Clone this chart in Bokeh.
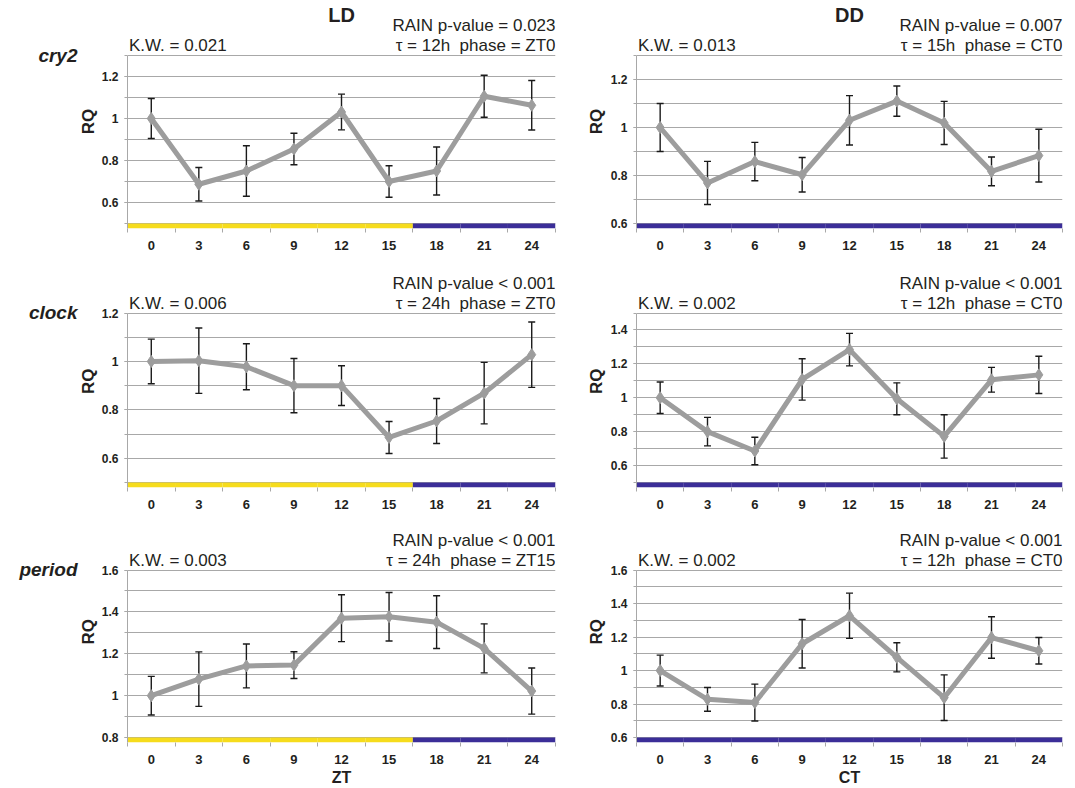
import numpy as np
from bokeh.plotting import figure
from bokeh.layouts import column, row
from bokeh.models import (ColumnDataSource, Whisker, TeeHead, Label, FixedTicker, Range1d)
from bokeh.embed import file_html
from bokeh.resources import INLINE

# ---------------- data ----------------
times = [0, 3, 6, 9, 12, 15, 18, 21, 24]
time_labels = ["0", "3", "6", "9", "12", "15", "18", "21", "24"]
ld_light = [1, 1, 1, 1, 1, 1, 0, 0, 0]   # 1 = light phase, 0 = dark phase
dd_light = [0, 0, 0, 0, 0, 0, 0, 0, 0]

cry2_ld_mean = [1.00, 0.687, 0.75, 0.855, 1.031, 0.70, 0.75, 1.106, 1.063]
cry2_ld_err = [0.095, 0.08, 0.12, 0.075, 0.085, 0.075, 0.114, 0.10, 0.118]
cry2_dd_mean = [1.00, 0.769, 0.858, 0.803, 1.03, 1.11, 1.019, 0.817, 0.883]
cry2_dd_err = [0.10, 0.09, 0.08, 0.072, 0.103, 0.063, 0.09, 0.06, 0.11]
clock_ld_mean = [1.00, 1.003, 0.978, 0.90, 0.90, 0.686, 0.754, 0.869, 1.028]
clock_ld_err = [0.092, 0.135, 0.095, 0.112, 0.082, 0.066, 0.093, 0.127, 0.135]
clock_dd_mean = [1.00, 0.80, 0.686, 1.108, 1.284, 0.994, 0.772, 1.106, 1.135]
clock_dd_err = [0.093, 0.084, 0.081, 0.122, 0.096, 0.094, 0.128, 0.073, 0.11]
period_ld_mean = [1.00, 1.079, 1.142, 1.146, 1.37, 1.377, 1.351, 1.226, 1.022]
period_ld_err = [0.092, 0.13, 0.105, 0.064, 0.112, 0.116, 0.126, 0.117, 0.11]
period_dd_mean = [1.00, 0.828, 0.809, 1.16, 1.327, 1.079, 0.838, 1.197, 1.118]
period_dd_err = [0.092, 0.071, 0.11, 0.145, 0.135, 0.087, 0.136, 0.124, 0.079]

genes = ["cry2", "clock", "period"]
kw_ld = ["K.W. = 0.021", "K.W. = 0.006", "K.W. = 0.003"]
kw_dd = ["K.W. = 0.013", "K.W. = 0.002", "K.W. = 0.002"]
rain_ld = ["RAIN p-value = 0.023", "RAIN p-value < 0.001", "RAIN p-value < 0.001"]
rain_dd = ["RAIN p-value = 0.007", "RAIN p-value < 0.001", "RAIN p-value < 0.001"]
tau_ld = ["\u03c4 = 12h\u00a0 phase = ZT0", "\u03c4 = 24h\u00a0 phase = ZT0", "\u03c4 = 24h\u00a0 phase = ZT15"]
tau_dd = ["\u03c4 = 15h\u00a0 phase = CT0", "\u03c4 = 12h\u00a0 phase = CT0", "\u03c4 = 12h\u00a0 phase = CT0"]

yrange_ld = [(0.5, 1.3), (0.5, 1.2), (0.8, 1.6)]
yrange_dd = [(0.6, 1.3), (0.5, 1.5), (0.6, 1.6)]
yticks_ld = [[0.6, 0.8, 1.0, 1.2], [0.6, 0.8, 1.0, 1.2], [0.8, 1.0, 1.2, 1.4, 1.6]]
ylabels_ld = [["0.6", "0.8", "1", "1.2"], ["0.6", "0.8", "1", "1.2"], ["0.8", "1", "1.2", "1.4", "1.6"]]
yticks_dd = [[0.6, 0.8, 1.0, 1.2], [0.6, 0.8, 1.0, 1.2, 1.4], [0.6, 0.8, 1.0, 1.2, 1.4, 1.6]]
ylabels_dd = [["0.6", "0.8", "1", "1.2"], ["0.6", "0.8", "1", "1.2", "1.4"], ["0.6", "0.8", "1", "1.2", "1.4", "1.6"]]

# ---------------- style / layout ----------------
FONT = "Liberation Sans"
TXT = "#231f20"
GRAY = "#9d9d9d"
GRID = "#a8a8a8"
YELLOW = "#f6dc1c"
BLUE = "#3b2e98"

ROW_H = [262, 256, 270]
DATA_TOP = [55, 50.5, 52]     # px from row top to the highest gridline
DATA_H = [168, 169.5, 169]    # px of the value region
BAR_PX = 5
GENE_Y = [63, 57, 62]         # gene name anchor, px from row top
SIDE_L, LD_W, SIDE_R, DD_W = 98, 472, 37, 468
FRAME_W = 428
NOTE_SIZE = "17px"


def side(width, r, gene=None, rq_x=None):
    h = ROW_H[r]
    p = figure(width=width, height=h, x_range=Range1d(0, width), y_range=Range1d(h, 0),
               x_axis_location=None, y_axis_location=None, output_backend="svg",
               toolbar_location=None, min_border=0, outline_line_color=None)
    p.grid.visible = False
    if gene:
        p.add_layout(Label(x=77, y=GENE_Y[r], text=gene, text_align="right", text_baseline="middle",
                           text_font=FONT, text_font_size="19px", text_font_style="bold italic",
                           text_color=TXT))
    p.add_layout(Label(x=rq_x, y=DATA_TOP[r] + DATA_H[r] / 2, text="RQ", angle=np.pi / 2,
                       text_align="center", text_baseline="middle", text_font=FONT,
                       text_font_size="17px", text_font_style="bold", text_color=TXT))
    return p


def panel(mean, err, light, yr, yt, yl, kw, rain, tau, r, left, header=None, xlabel=None):
    ymin, ymax = yr
    dpp = (ymax - ymin) / DATA_H[r]
    ystart = ymin - BAR_PX * dpp
    yend = ymax + DATA_TOP[r] * dpp
    fh = DATA_TOP[r] + DATA_H[r] + BAR_PX
    w = LD_W if left else DD_W
    bl = 29 if left else 27
    br = w - bl - FRAME_W
    bb = ROW_H[r] - fh
    p = figure(width=w, height=ROW_H[r], x_range=Range1d(-1.5, 25.5), y_range=Range1d(ystart, yend),
               output_backend="svg", toolbar_location=None,
               min_border_left=bl, min_border_right=br, min_border_top=0, min_border_bottom=int(bb),
               outline_line_color=None)
    t = np.array(times, dtype=float)
    m = np.array(mean)
    e = np.array(err)

    # grid every 0.1
    grid_vals = [float(v) for v in np.round(np.arange(ymin, ymax + 1e-6, 0.1), 3)]
    p.xgrid.visible = False
    p.ygrid.ticker = FixedTicker(ticks=grid_vals)
    p.ygrid.grid_line_color = GRID
    p.ygrid.grid_line_width = 1.2

    # light / dark bar
    colors = [YELLOW if s else BLUE for s in light]
    p.quad(left=t - 1.5, right=t + 1.5, bottom=ystart, top=ymin, fill_color=colors, line_color=None)

    # error bars
    src = ColumnDataSource(dict(base=t, upper=m + e, lower=m - e))
    wk = Whisker(source=src, base="base", upper="upper", lower="lower",
                 line_color="#1a1a1a", line_width=1.4,
                 upper_head=TeeHead(size=7, line_color="#1a1a1a", line_width=1.4),
                 lower_head=TeeHead(size=7, line_color="#1a1a1a", line_width=1.4))
    p.add_layout(wk)

    p.line(t, m, line_color=GRAY, line_width=5)
    p.scatter(t, m, marker="diamond", size=12, fill_color=GRAY, line_color=GRAY)

    # y axis
    ya = p.yaxis[0]
    ya.bounds = (ystart, ymax)
    ya.ticker = FixedTicker(ticks=yt, minor_ticks=grid_vals)
    ya.major_label_overrides = {float(v): s for v, s in zip(yt, yl)}
    ya.axis_line_color = GRID
    ya.major_tick_line_color = GRID
    ya.minor_tick_line_color = GRID
    ya.major_tick_out = 3
    ya.major_tick_in = 0
    ya.minor_tick_out = 3
    ya.minor_tick_in = 0
    ya.major_label_standoff = 6
    ya.major_label_text_font = FONT
    ya.major_label_text_font_style = "bold"
    ya.major_label_text_font_size = "12px"
    ya.major_label_text_color = TXT

    # x axis
    xa = p.xaxis[0]
    bounds = [v - 1.5 for v in times] + [times[-1] + 1.5]
    xa.ticker = FixedTicker(ticks=times, minor_ticks=bounds)
    xa.major_label_overrides = {float(v): s for v, s in zip(times, time_labels)}
    xa.axis_line_color = None
    xa.major_tick_line_color = None
    xa.major_tick_out = 0
    xa.major_tick_in = 0
    xa.minor_tick_line_color = GRID
    xa.minor_tick_out = 4
    xa.minor_tick_in = 0
    xa.major_label_standoff = 8
    xa.major_label_text_font = FONT
    xa.major_label_text_font_style = "bold"
    xa.major_label_text_font_size = "13px"
    xa.major_label_text_color = TXT
    if xlabel:
        xa.axis_label = xlabel
        xa.axis_label_standoff = 2
        xa.axis_label_text_font = FONT
        xa.axis_label_text_font_style = "bold"
        xa.axis_label_text_font_size = "16px"
        xa.axis_label_text_color = TXT

    def lab(x, text, align, yo, size=NOTE_SIZE, style="normal"):
        p.add_layout(Label(x=x, y=ymax, text=text, text_align=align, text_baseline="middle",
                           y_offset=yo, text_font=FONT, text_font_size=size,
                           text_font_style=style, text_color=TXT))

    lab(-1.5, "\u200a" + kw, "left", 10)
    lab(25.5, tau, "right", 10)
    lab(25.5, rain, "right", 30)
    if header:
        lab(12, header, "center", 41, size="20px", style="bold")
    return p


ld_means = [cry2_ld_mean, clock_ld_mean, period_ld_mean]
ld_errs = [cry2_ld_err, clock_ld_err, period_ld_err]
dd_means = [cry2_dd_mean, clock_dd_mean, period_dd_mean]
dd_errs = [cry2_dd_err, clock_dd_err, period_dd_err]

rows = []
for r in range(3):
    sl = side(SIDE_L, r, gene=genes[r], rq_x=88)
    pl = panel(ld_means[r], ld_errs[r], ld_light, yrange_ld[r], yticks_ld[r], ylabels_ld[r],
               kw_ld[r], rain_ld[r], tau_ld[r], r, True,
               header="LD" if r == 0 else None, xlabel="ZT" if r == 2 else None)
    sr = side(SIDE_R, r, rq_x=26)
    pr = panel(dd_means[r], dd_errs[r], dd_light, yrange_dd[r], yticks_dd[r], ylabels_dd[r],
               kw_dd[r], rain_dd[r], tau_dd[r], r, False,
               header="DD" if r == 0 else None, xlabel="CT" if r == 2 else None)
    rows.append(row(sl, pl, sr, pr))

layout = column(*rows)
open("out.html", "w").write(file_html(layout, INLINE))
